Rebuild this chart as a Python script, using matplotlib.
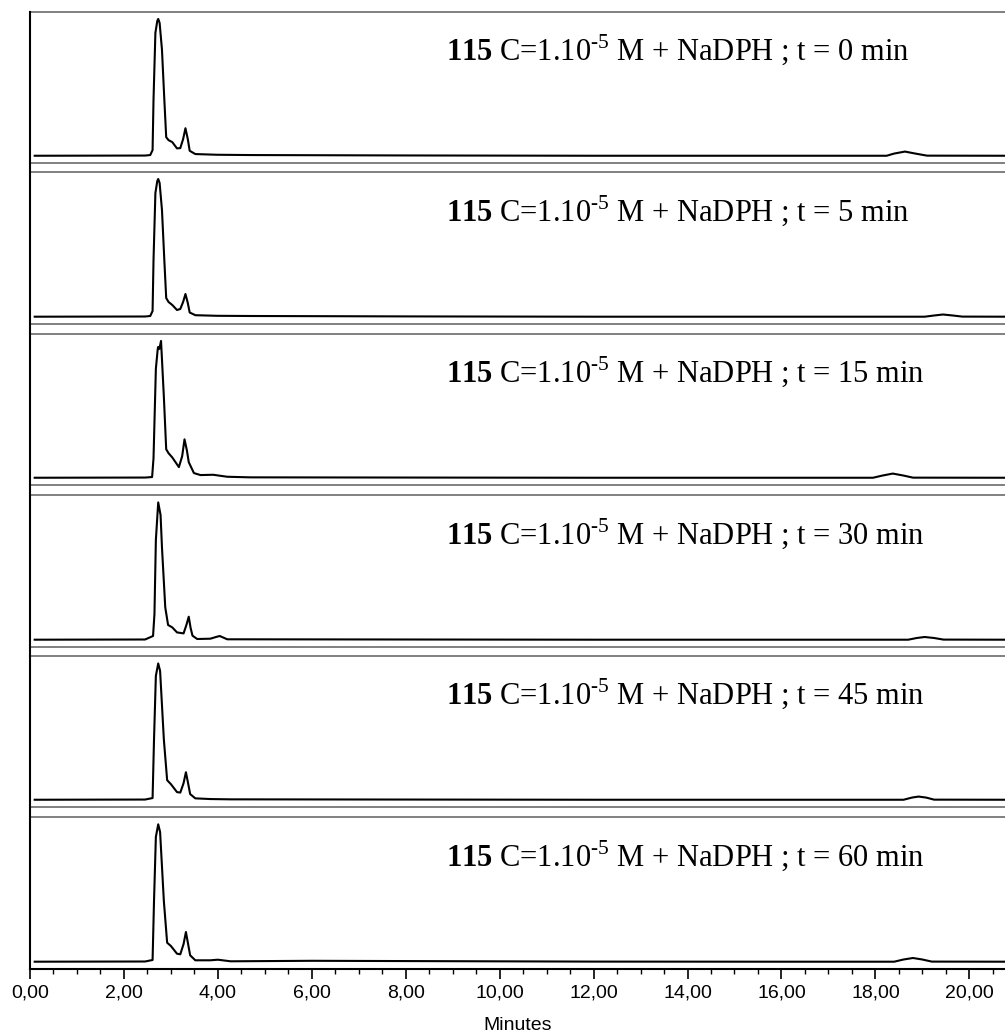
import matplotlib
matplotlib.use("Agg")
import matplotlib.pyplot as plt
from matplotlib.ticker import MultipleLocator, FuncFormatter
from matplotlib.transforms import blended_transform_factory

plt.rcParams['font.family'] = 'Liberation Sans'
plt.rcParams['mathtext.fontset'] = 'custom'
plt.rcParams['mathtext.rm'] = 'Liberation Serif'
plt.rcParams['mathtext.bf'] = 'Liberation Serif:bold'

# sampling times (min) of the reaction
incubation = [0, 5, 15, 30, 45, 60]

# chromatograms: retention time (min) / detector signal (a.u.)
time_0 = [0.10, 2.45, 2.56, 2.61, 2.63, 2.67, 2.71, 2.73, 2.76, 2.81, 2.86, 2.90, 2.95, 3.03, 3.13, 3.20,
          3.26, 3.31, 3.36, 3.40, 3.52, 3.98, 4.69, 8.0, 12.0, 16.0, 18.24, 18.40, 18.63, 18.85, 19.10, 20.76]
signal_0 = [0.3, 0.5, 1, 6, 57, 124, 136, 138, 134, 107, 57, 19, 16, 14, 7.7, 8,
            17, 28, 17, 5.3, 2, 1.3, 1, 0.6, 0.3, 0.3, 0.3, 2.5, 4.5, 2.5, 0.4, 0.3]

time_5 = [0.10, 2.45, 2.56, 2.61, 2.63, 2.67, 2.71, 2.73, 2.76, 2.81, 2.86, 2.90, 2.95, 3.03, 3.13, 3.20,
          3.26, 3.31, 3.36, 3.40, 3.52, 3.98, 4.69, 8.0, 12.0, 16.0, 19.05, 19.25, 19.44, 19.65, 19.85, 20.76]
signal_5 = [0.3, 0.5, 1, 6, 57, 124, 136, 138, 134, 107, 57, 19, 15, 12, 7, 8,
            15, 23, 14, 4.5, 1.8, 1.2, 1, 0.6, 0.3, 0.3, 0.3, 1.5, 2.5, 1.5, 0.4, 0.3]

time_15 = [0.10, 2.45, 2.60, 2.63, 2.68, 2.72, 2.73, 2.755, 2.79, 2.85, 2.90, 2.95, 3.03, 3.17, 3.24,
           3.29, 3.34, 3.38, 3.49, 3.63, 3.90, 4.20, 4.69, 8.0, 12.0, 16.0, 17.95, 18.15, 18.37, 18.60, 18.80, 20.76]
signal_15 = [0.3, 0.5, 1, 20, 110, 130, 132, 130, 138, 82, 29, 25, 20.7, 11, 22,
             39, 28, 16, 5, 3, 3.3, 1.3, 0.7, 0.5, 0.3, 0.3, 0.3, 2.5, 4.5, 2.5, 0.4, 0.3]

time_30 = [0.10, 2.45, 2.62, 2.65, 2.68, 2.73, 2.78, 2.81, 2.88, 2.94, 3.03, 3.13, 3.27, 3.33, 3.38,
           3.42, 3.46, 3.56, 3.84, 3.96, 4.04, 4.20, 8.0, 12.0, 16.0, 18.70, 18.88, 19.05, 19.25, 19.45, 20.76]
signal_30 = [0.3, 0.5, 4, 26, 100, 137.6, 125, 92.6, 32.6, 15, 12.6, 7.6, 6.6, 15, 23.3,
             12, 4.3, 1, 1.3, 3, 4, 0.7, 0.5, 0.3, 0.3, 0.3, 2, 3, 2, 0.4, 0.3]

time_45 = [0.10, 2.45, 2.61, 2.64, 2.68, 2.73, 2.77, 2.85, 2.92, 3.00, 3.13, 3.20, 3.27, 3.32, 3.37,
           3.41, 3.52, 3.84, 4.27, 8.0, 12.0, 16.0, 18.60, 18.78, 18.92, 19.08, 19.25, 20.76]
signal_45 = [0.3, 0.5, 2, 60, 125, 137.5, 130, 61, 20, 16, 8, 7.5, 17, 28, 16,
             6, 1.7, 1, 0.7, 0.5, 0.3, 0.3, 0.3, 2.5, 3.5, 2.5, 0.4, 0.3]

time_60 = [0.10, 2.45, 2.61, 2.64, 2.68, 2.73, 2.77, 2.85, 2.92, 3.00, 3.13, 3.20, 3.27, 3.32, 3.37,
           3.41, 3.52, 3.84, 4.00, 4.27, 6.0, 9.0, 12.0, 16.0, 18.40, 18.60, 18.80, 19.00, 19.20, 20.76]
signal_60 = [0.3, 0.5, 2, 60, 125, 137.7, 130, 61, 19.3, 16, 8.3, 7.7, 18, 30, 17,
             6.7, 1.7, 1.7, 2.3, 0.7, 1.2, 0.8, 0.4, 0.3, 0.3, 2.5, 4, 2.5, 0.4, 0.3]

times = [time_0, time_5, time_15, time_30, time_45, time_60]
signals = [signal_0, signal_5, signal_15, signal_30, signal_45, signal_60]

W, H = 1005, 1034
fig = plt.figure(figsize=(W / 100, H / 100), dpi=100)

x0 = 30
tops = [12, 172, 334, 495, 656, 817]
bottoms = [163, 324, 485, 647, 807, 969]
xmax = 20.76

for k in range(6):
    ax = fig.add_axes([x0 / W, 1 - bottoms[k] / H, (W - x0) / W, (bottoms[k] - tops[k]) / H])
    ax.plot(times[k], signals[k], color='black', lw=1.5, solid_joinstyle='round')
    ax.set_xlim(0, xmax)
    ax.set_ylim(-7, 145)
    ax.set_xticks([])
    ax.set_yticks([])
    for side in ['top', 'bottom', 'left']:
        ax.spines[side].set_color('#808080')
        ax.spines[side].set_linewidth(1.4)
    ax.spines['right'].set_visible(False)
    tr = blended_transform_factory(ax.transData, ax.transAxes)
    ax.text(8.85, 0.68, r'$\mathbf{115}$ C=1.10$^{\text{-5}}$ M + NaDPH ; t = %d min' % incubation[k],
            transform=tr, fontsize=22, family='Liberation Serif', va='baseline')

# common time axis
base = fig.add_axes([x0 / W, 1 - bottoms[-1] / H, (W - x0) / W, (bottoms[-1] - tops[0]) / H])
base.patch.set_visible(False)
base.set_zorder(5)
base.set_xlim(0, xmax)
base.set_yticks([])
base.spines['top'].set_visible(False)
base.spines['right'].set_visible(False)
base.spines['left'].set_linewidth(1.5)
base.spines['bottom'].set_linewidth(1.5)
base.xaxis.set_major_locator(MultipleLocator(2))
base.xaxis.set_minor_locator(MultipleLocator(0.5))
base.xaxis.set_major_formatter(FuncFormatter(lambda v, p: f"{v:.2f}".replace('.', ',')))
base.tick_params(axis='x', which='major', length=7, width=1.2, pad=4.5, labelsize=14)
base.tick_params(axis='x', which='minor', length=3.5, width=1.0)
base.set_xlabel('Minutes', fontsize=14, labelpad=11)

plt.savefig('out.png', dpi=100)
plt.close()
